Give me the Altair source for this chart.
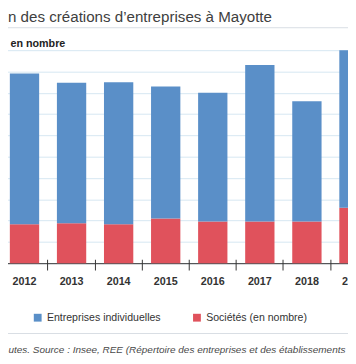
import altair as alt
import pandas as pd

years = ["2012", "2013", "2014", "2015", "2016", "2017", "2018", "2019"]
entreprises_individuelles = [1414, 1318, 1334, 1238, 1208, 1468, 1128, 1480]
societes = [366, 376, 366, 420, 392, 392, 392, 520]
series = ["Entreprises individuelles", "Sociétés (en nombre)"]
series_colors = ["#5a8fc8", "#e0525c"]
grid_values = [0, 200, 400, 600, 800, 1000, 1200, 1400, 1600, 1800, 2000]
title_text = "n des créations d’entreprises à Mayotte"
unit_text = "en nombre"
note_text = "utes. Source : Insee, REE (Répertoire des entreprises et des établissements"

rows = []
for yr, ei, so in zip(years, entreprises_individuelles, societes):
    rows.append({"annee": yr, "serie": series[1], "valeur": so, "ordre": 0})
    rows.append({"annee": yr, "serie": series[0], "valeur": ei, "ordre": 1})
df = pd.DataFrame(rows)

W, H = 348, 218
SANS = "Liberation Sans, Arial, sans-serif"


def xscale():
    return alt.Scale(domain=years, range=[-7.2, 378.2], paddingInner=0, paddingOuter=0)


bars = alt.Chart(df).mark_bar(size=30).encode(
    x=alt.X(
        "annee:N",
        scale=xscale(),
        axis=alt.Axis(
            orient="bottom", title=note_text, domain=True, domainColor="#333333",
            ticks=False, grid=False, labelAngle=0, labelPadding=13, labelFont=SANS,
            labelFontSize=11, labelFontWeight="bold", labelColor="#333333",
            titleX=0, titleY=91,
            titleAlign="left", titleAnchor="start", titleBaseline="alphabetic",
            titleFont=SANS, titleFontSize=10.2, titleFontStyle="italic",
            titleFontWeight="normal", titleColor="#4a4a4a",
        ),
    ),
    y=alt.Y(
        "valeur:Q",
        stack="zero",
        scale=alt.Scale(domain=[0, 2000], nice=False),
        axis=alt.Axis(
            values=grid_values, domain=False, ticks=False, labels=False, grid=True,
            gridColor="#d5e6f2", title=unit_text, titleAngle=0, titleX=2, titleY=-4,
            titleAlign="left", titleBaseline="alphabetic", titleFont=SANS,
            titleFontSize=11, titleFontWeight="bold", titleColor="#222222",
        ),
    ),
    color=alt.Color(
        "serie:N",
        scale=alt.Scale(domain=series, range=series_colors),
        legend=alt.Legend(
            orient="none", legendX=25, legendY=268, direction="horizontal", title=None,
            symbolType="square", symbolSize=64, symbolStrokeWidth=0, labelFont=SANS,
            labelFontSize=10.8, labelColor="#333333", columnPadding=31, labelOffset=4,
            padding=0,
        ),
    ),
    order=alt.Order("ordre:Q"),
)

ticks = alt.Chart(df).mark_tick(opacity=0).encode(
    x=alt.X(
        "annee:N",
        scale=xscale(),
        axis=alt.Axis(
            orient="bottom", offset=-4, domain=False, labels=False, ticks=True,
            tickSize=11, tickColor="#333333", tickWidth=1, bandPosition=0,
            grid=False, title=None,
        ),
    )
)

line_df = pd.DataFrame({"k": [0]})
title_rule = alt.Chart(line_df).mark_rule(color="#d8dde3", strokeWidth=1).encode(
    x=alt.value(0), x2=alt.value(W), y=alt.value(-23)
)
note_rule = alt.Chart(line_df).mark_rule(color="#d8dde3", strokeWidth=1).encode(
    x=alt.value(0), x2=alt.value(W), y=alt.value(290)
)

chart = (
    alt.layer(bars, ticks, title_rule, note_rule)
    .resolve_scale(x="independent")
    .properties(
        width=W,
        height=H,
        title=alt.Title(
            text=title_text, anchor="start", frame="group", offset=4, dy=14,
            baseline="alphabetic", font=SANS,
            fontSize=15.5, fontWeight="normal", color="#404040",
        ),
        autosize=alt.AutoSizeParams(type="none"),
        padding={"left": 0, "top": 39, "right": 0, "bottom": 99},
    )
    .configure_view(stroke=None)
)

chart.save("out.html", embed_options={"renderer": "svg", "actions": False})
